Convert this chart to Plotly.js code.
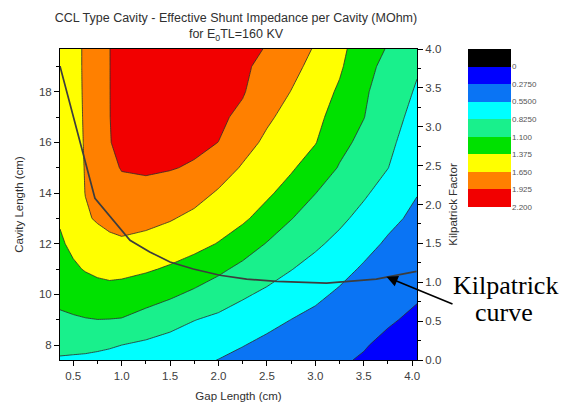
<!DOCTYPE html>
<html>
<head>
<meta charset="utf-8">
<script src="https://cdn.plot.ly/plotly-3.0.1.min.js"></script>
<style>html,body{margin:0;padding:0;background:#fff;}#chart{width:561px;height:405px;}</style>
</head>
<body>
<div id="chart"></div>
<script>
// Gap length (cm) – x grid
const gapLength = [0.363, 0.5, 0.625, 0.75, 0.875, 1.0, 1.25, 1.5, 1.75, 2.0, 2.25, 2.5, 2.75, 3.0, 3.25, 3.5, 3.75, 4.05];
// Cavity length (cm) – y grid
const cavityLength = [7.41, 8, 9, 10, 11, 12, 13, 14, 15, 16, 17, 18, 19, 19.69];
// Effective shunt impedance per cavity (MOhm), one row per cavity length
const shuntImpedance = [
  [0.80, 0.79, 0.78, 0.76, 0.745, 0.72, 0.68, 0.63, 0.60, 0.545, 0.474, 0.397, 0.36, 0.33, 0.30, 0.255, 0.185, 0.13],
  [0.893, 0.889, 0.886, 0.875, 0.852, 0.825, 0.779, 0.727, 0.685, 0.631, 0.56, 0.484, 0.43, 0.388, 0.349, 0.29, 0.226, 0.169],
  [1.06, 1.072, 1.088, 1.098, 1.095, 1.087, 1.003, 0.919, 0.831, 0.775, 0.707, 0.631, 0.548, 0.488, 0.432, 0.367, 0.299, 0.234],
  [1.162, 1.209, 1.244, 1.274, 1.282, 1.269, 1.215, 1.142, 1.048, 0.953, 0.858, 0.778, 0.69, 0.601, 0.514, 0.444, 0.372, 0.299],
  [1.244, 1.337, 1.391, 1.427, 1.451, 1.444, 1.404, 1.345, 1.269, 1.153, 1.032, 0.931, 0.833, 0.737, 0.625, 0.521, 0.444, 0.364],
  [1.34, 1.43, 1.494, 1.551, 1.604, 1.616, 1.574, 1.512, 1.449, 1.364, 1.238, 1.087, 0.97, 0.867, 0.758, 0.627, 0.517, 0.43],
  [1.40, 1.49, 1.62, 1.675, 1.703, 1.733, 1.72, 1.669, 1.59, 1.496, 1.416, 1.272, 1.108, 0.986, 0.876, 0.75, 0.611, 0.495],
  [1.44, 1.53, 1.655, 1.72, 1.78, 1.837, 1.848, 1.808, 1.741, 1.623, 1.521, 1.417, 1.274, 1.104, 0.98, 0.859, 0.722, 0.559],
  [1.48, 1.565, 1.66, 1.75, 1.86, 1.94, 1.96, 1.94, 1.898, 1.771, 1.626, 1.509, 1.406, 1.251, 1.083, 0.947, 0.829, 0.618],
  [1.51, 1.59, 1.663, 1.77, 1.915, 1.99, 2.02, 2.01, 1.98, 1.923, 1.746, 1.601, 1.486, 1.386, 1.169, 1.036, 0.885, 0.677],
  [1.535, 1.60, 1.665, 1.785, 1.92, 2.02, 2.06, 2.06, 2.03, 1.97, 1.87, 1.69, 1.565, 1.452, 1.251, 1.106, 0.94, 0.736],
  [1.555, 1.61, 1.665, 1.795, 1.92, 2.04, 2.09, 2.10, 2.07, 2.0, 1.945, 1.773, 1.645, 1.518, 1.334, 1.13, 0.996, 0.795],
  [1.57, 1.615, 1.665, 1.80, 1.92, 2.05, 2.11, 2.13, 2.09, 2.02, 1.965, 1.857, 1.715, 1.584, 1.416, 1.154, 1.052, 0.855],
  [1.58, 1.615, 1.665, 1.80, 1.92, 2.055, 2.12, 2.14, 2.10, 2.03, 1.975, 1.915, 1.76, 1.63, 1.47, 1.17, 1.09, 0.895]
];
// Kilpatrick curve (right axis)
const kilpatrickGap = [0.363, 0.724, 1.086, 1.29, 1.499, 1.74, 2.015, 2.29, 2.60, 3.116, 3.63, 4.045];
const kilpatrickFactor = [3.78, 2.08, 1.54, 1.39, 1.26, 1.17, 1.09, 1.04, 1.01, 0.99, 1.04, 1.14];
// Contour levels / legend
const levelLabels = ['0', '0.2750', '0.5500', '0.8250', '1.100', '1.375', '1.650', '1.925', '2.200'];
const levelStart = 0, levelEnd = 2.2, levelStep = 0.275;
const bandColors = ['#000000', '#0000FF', '#0A74F4', '#00FFFF', '#19F08C', '#00E100', '#FFFF00', '#FF8000', '#F20000'];

// contour fill colourscale: band k maps to fraction k/9
const csContour = [];
for (let k = 0; k < bandColors.length; k++) csContour.push([k / 9, bandColors[k]]);
csContour.push([1, bandColors[bandColors.length - 1]]);
const csLegend = bandColors.map((c, k) => [k / (bandColors.length - 1), c]);

const W = 561, H = 405;
const L = 60, R = 50, T = 49, B = 45;
const plotW = W - L - R, plotH = H - T - B;
const mainRight = (417 - L) / plotW;
const cbLeft = (468 - L) / plotW;
const cbBottom = (360 - 207) / plotH;

const font = 'Liberation Sans, Arial, sans-serif';
const tickCol = '#404040';

const traces = [
  {
    type: 'contour',
    x: gapLength, y: cavityLength, z: shuntImpedance,
    autocontour: false,
    contours: {start: levelStart, end: levelEnd, size: levelStep, coloring: 'fill', showlines: true},
    colorscale: csContour,
    line: {color: 'rgba(45,45,45,0.9)', width: 0.9, smoothing: 0},
    showscale: false, hoverinfo: 'skip'
  },
  {
    type: 'scatter', mode: 'lines',
    x: kilpatrickGap, y: kilpatrickFactor, yaxis: 'y2',
    line: {color: '#3d3d3d', width: 1.7},
    hoverinfo: 'skip', showlegend: false
  },
  {
    type: 'heatmap', xaxis: 'x3', yaxis: 'y3',
    x: [0], y: bandColors.map((c, k) => k), z: bandColors.map((c, k) => [k]),
    zmin: 0, zmax: bandColors.length - 1,
    colorscale: csLegend, showscale: false, hoverinfo: 'skip'
  }
];

const layout = {
  width: W, height: H,
  margin: {l: L, r: R, t: T, b: B, pad: 0},
  paper_bgcolor: '#ffffff', plot_bgcolor: '#ffffff',
  font: {family: font, size: 11, color: tickCol},
  showlegend: false,
  title: {
    text: 'CCL Type Cavity - Effective Shunt Impedance per Cavity (MOhm)<br>for E<sub>0</sub>TL=160 KV',
    font: {family: font, size: 12.5, color: '#303030'},
    xref: 'container', x: 236 / W, xanchor: 'center',
    yref: 'container', y: 1 - 22 / H, yanchor: 'top'
  },
  xaxis: {
    domain: [0, mainRight], range: [gapLength[0], gapLength[gapLength.length - 1]],
    tick0: 0.5, dtick: 0.5, tickformat: '.1f',
    ticks: 'outside', ticklen: 5, tickwidth: 1, tickcolor: '#000',
    minor: {dtick: 0.25, ticks: 'outside', ticklen: 3, tickcolor: '#000'},
    showline: true, linecolor: '#000', linewidth: 1, mirror: true,
    showgrid: false, zeroline: false,
    tickfont: {family: font, size: 11.5, color: tickCol},
    title: {text: 'Gap Length (cm)', font: {family: font, size: 11.5, color: '#303030'}, standoff: 11}
  },
  yaxis: {
    range: [cavityLength[0], cavityLength[cavityLength.length - 1]],
    tick0: 8, dtick: 2,
    ticks: 'outside', ticklen: 5, tickwidth: 1, tickcolor: '#000',
    minor: {dtick: 1, ticks: 'outside', ticklen: 3, tickcolor: '#000'},
    showline: true, linecolor: '#000', linewidth: 1,
    showgrid: false, zeroline: false,
    tickfont: {family: font, size: 11.5, color: tickCol},
    title: {text: 'Cavity Length (cm)', font: {family: font, size: 11.5, color: '#303030'}, standoff: 12}
  },
  yaxis2: {
    overlaying: 'y', side: 'right', anchor: 'x',
    range: [0, 4], tick0: 0, dtick: 0.5, tickformat: '.1f',
    ticks: 'outside', ticklen: 5, tickwidth: 1, tickcolor: '#000',
    minor: {dtick: 0.25, ticks: 'outside', ticklen: 3, tickcolor: '#000'},
    showline: true, linecolor: '#000', linewidth: 1,
    showgrid: false, zeroline: false,
    tickfont: {family: font, size: 11.5, color: tickCol},
    title: {text: 'Kilpatrick Factor', font: {family: font, size: 11.5, color: '#303030'}, standoff: 8}
  },
  xaxis3: {
    domain: [cbLeft, 1], anchor: 'y3', range: [-0.5, 0.5],
    showticklabels: false, ticks: '', showgrid: false, zeroline: false, showline: false
  },
  yaxis3: {
    domain: [cbBottom, 1], anchor: 'x3', side: 'right',
    range: [bandColors.length - 0.5, -0.5],
    tickmode: 'array', tickvals: levelLabels.map((t, k) => k + 0.5), ticktext: levelLabels,
    ticks: '', showgrid: false, zeroline: false, showline: false,
    tickfont: {family: font, size: 8, color: '#555'}
  },
  annotations: [
    {
      xref: 'x', yref: 'y2', x: 3.735, y: 1.07,
      axref: 'pixel', ayref: 'pixel', ax: 68, ay: 28,
      text: '\u200A', showarrow: true, arrowhead: 2, arrowsize: 1.4, arrowwidth: 1.6, arrowcolor: '#000'
    },
    {
      xref: 'paper', yref: 'paper', x: (505 - L) / plotW, y: (360 - 285) / plotH,
      xanchor: 'center', yanchor: 'middle', showarrow: false,
      text: 'Kilpatrick', font: {family: 'Liberation Serif, Times New Roman, serif', size: 26, color: '#000'}
    },
    {
      xref: 'paper', yref: 'paper', x: (504 - L) / plotW, y: (360 - 312) / plotH,
      xanchor: 'center', yanchor: 'middle', showarrow: false,
      text: 'curve', font: {family: 'Liberation Serif, Times New Roman, serif', size: 26, color: '#000'}
    }
  ]
};

Plotly.newPlot('chart', traces, layout, {staticPlot: true, displayModeBar: false});
</script>
</body>
</html>
